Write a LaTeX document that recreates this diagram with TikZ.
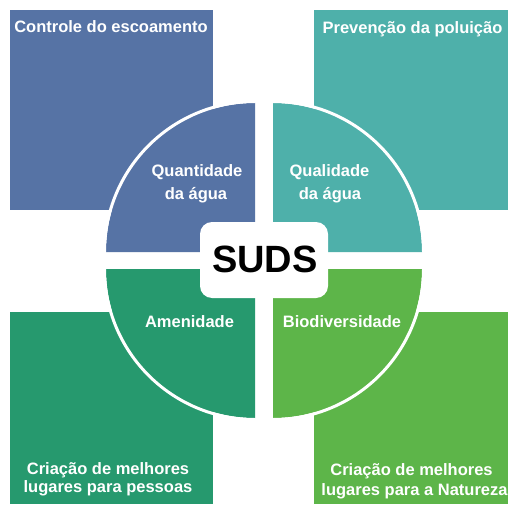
\documentclass[tikz,border=0pt]{standalone}
\usepackage{fontspec}
\setmainfont{Liberation Sans}
\definecolor{cblue}{RGB}{86,115,165}
\definecolor{cteal}{RGB}{78,176,170}
\definecolor{cdgreen}{RGB}{38,153,110}
\definecolor{clgreen}{RGB}{93,181,73}
\tikzset{
  lbl/.style={text=white,font=\bfseries\fontsize{16.5}{18}\selectfont,inner sep=0pt,anchor=base},
  arcline/.style={draw=white,line width=3pt},
}
\begin{document}
\begin{tikzpicture}[x=1pt,y=1pt]
\useasboundingbox[fill=white] (0,0) rectangle (508,504);
% corner squares
\fill[cblue] (10,294) rectangle (213,494);
\fill[cteal] (314,294) rectangle (508,494);
\fill[cdgreen] (10,0) rectangle (213,192);
\fill[clgreen] (314,0) rectangle (508,192);
% quadrants
\fill[cblue] (255,252) -- ++(-149,0) arc[start angle=180,end angle=90,radius=149] -- cycle;
\draw[arcline] (255,252) ++(-150.5,0) arc[start angle=180,end angle=90,radius=150.5];
\fill[cteal] (273,252) -- ++(149,0) arc[start angle=0,end angle=90,radius=149] -- cycle;
\draw[arcline] (273,252) ++(150.5,0) arc[start angle=0,end angle=90,radius=150.5];
\fill[cdgreen] (255,235) -- ++(-149,0) arc[start angle=180,end angle=270,radius=149] -- cycle;
\draw[arcline] (255,235) ++(-150.5,0) arc[start angle=180,end angle=270,radius=150.5];
\fill[clgreen] (273,235) -- ++(149,0) arc[start angle=0,end angle=-90,radius=149] -- cycle;
\draw[arcline] (273,235) ++(150.5,0) arc[start angle=0,end angle=-90,radius=150.5];
% centre box
\node[fill=white,rounded corners=12pt,minimum width=128pt,minimum height=76pt,inner sep=0pt] (box) at (264,244) {};
\node[font=\bfseries\fontsize{38}{40}\selectfont,inner sep=0pt,anchor=base] (suds) at (265,232) {SUDS};
% corner labels
\node[lbl] (t1) at (111,471) {Controle do escoamento};
\node[lbl] (t2) at (412.5,470) {Prevenção da poluição};
\node[lbl] (t3a) at (108,30) {Criação de melhores};
\node[lbl] (t3b) at (108,12) {lugares para pessoas};
\node[lbl] (t4a) at (411.5,29) {Criação de melhores};
\node[lbl] (t4b) at (414.5,9) {lugares para a Natureza};
% quadrant labels
\node[lbl] (q1a) at (197,327) {Quantidade};
\node[lbl] (q1b) at (196,305) {da água};
\node[lbl] (q2a) at (329.5,327) {Qualidade};
\node[lbl] (q2b) at (330,305) {da água};
\node[lbl] (q3) at (189.5,177) {Amenidade};
\node[lbl] (q4) at (342,177) {Biodiversidade};
\end{tikzpicture}
\end{document}
